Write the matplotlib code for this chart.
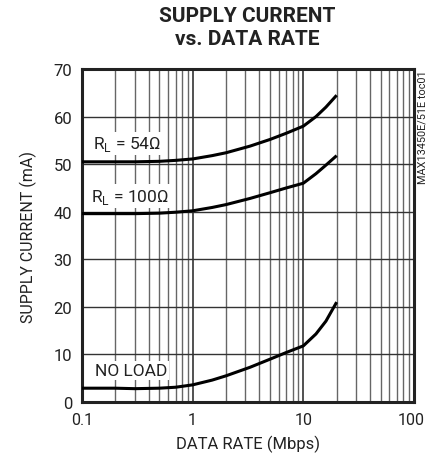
import matplotlib
matplotlib.use("Agg")
import matplotlib.pyplot as plt
import matplotlib.transforms as mtransforms
import numpy as np

plt.rcParams['font.family'] = ['Roboto', 'DejaVu Sans']

# data rate (Mbps) and supply current (mA)
rate = [0.1, 0.2, 0.3, 0.5, 0.7, 1.0, 1.5, 2.0, 3.3, 5.0, 7.0, 10.0, 13.0, 16.0, 20.0]
i_54 = [50.5, 50.5, 50.5, 50.6, 50.8, 51.1, 51.8, 52.4, 53.8, 55.2, 56.5, 58.0, 60.0, 62.0, 64.5]
i_100 = [39.6, 39.6, 39.6, 39.7, 39.9, 40.2, 40.9, 41.5, 42.8, 44.0, 45.0, 46.0, 48.0, 49.8, 51.8]
i_noload = [2.9, 2.9, 2.8, 2.9, 3.1, 3.6, 4.6, 5.5, 7.3, 9.0, 10.4, 11.8, 14.3, 17.0, 21.0]

curve_labels = ["R$_\\mathregular{L}$ = 54Ω", "R$_\\mathregular{L}$ = 100Ω", "NO LOAD"]
label_pos = [(0.125, 54.3), (0.12, 43.3), (0.13, 6.6)]

xticks = [0.1, 1, 10, 100]
xticklabels = ["0.1", "1", "10", "100"]
yticks = [0, 10, 20, 30, 40, 50, 60, 70]

fig = plt.figure(figsize=(4.27, 4.64), dpi=100)
ax = fig.add_axes([0.192, 0.1315, 0.7776, 0.7175])

ax.set_xscale("log")
ax.set_xlim(0.1, 100)
ax.set_ylim(0, 70)

# grid
for dec in [0.1, 1, 10]:
    for m in range(2, 10):
        ax.axvline(dec * m, color="#666666", lw=1.0, zorder=1)
    if dec > 0.1:
        ax.axvline(dec, color="#222222", lw=1.1, zorder=1)
for y in yticks[1:-1]:
    ax.axhline(y, color="#333333", lw=1.0, zorder=1)

for ys in [i_54, i_100, i_noload]:
    ax.plot(rate, ys, color="black", lw=2.2, zorder=3, solid_capstyle="butt")

for txt, (x, y) in zip(curve_labels, label_pos):
    ax.text(x, y, txt, fontsize=12.5, ha="left", va="center", color="#222222", zorder=2,
            bbox=dict(facecolor="white", edgecolor="none", pad=1.5))

ax.set_xticks(xticks)
ax.set_xticklabels(xticklabels)
ax.xaxis.set_minor_locator(matplotlib.ticker.NullLocator())
ax.set_yticks(yticks)
ax.tick_params(length=0, labelsize=12, colors="#222222", pad=7)
ax.tick_params(axis="x", labelsize=11.5)
last = ax.get_xticklabels()[-1]
last.set_transform(last.get_transform() + mtransforms.ScaledTranslation(-3 / 100, 0, fig.dpi_scale_trans))

for s in ax.spines.values():
    s.set_linewidth(2.2)
    s.set_color("#222222")

ax.set_xlabel("DATA RATE (Mbps)", fontsize=12, color="#222222", labelpad=6)
ax.set_ylabel("SUPPLY CURRENT (mA)", fontsize=11.5, color="#222222", labelpad=12)

fig.text(0.58, 0.985, "SUPPLY CURRENT\nvs. DATA RATE", ha="center", va="top",
         fontsize=15, fontweight="bold", color="#222222", linespacing=1.25)
fig.text(0.99, 0.849, "MAX13450E/51E toc01", rotation=90, ha="center", va="top",
         fontsize=7.8, color="#222222")

fig.savefig("out.png", dpi=100)
